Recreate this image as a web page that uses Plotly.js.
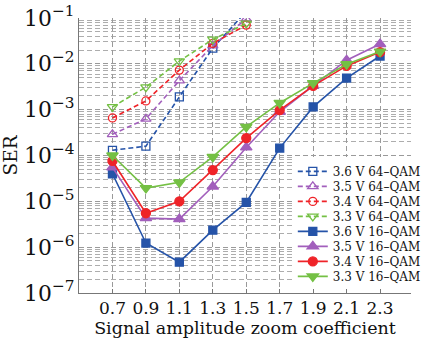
<!DOCTYPE html>
<html>
<head>
<meta charset="utf-8">
<script src="https://cdn.plot.ly/plotly-3.0.1.min.js"></script>
<style>html,body{margin:0;padding:0;background:#fff;overflow:hidden}#chart{width:427px;height:347px}</style>
</head>
<body>
<div id="chart"></div>
<script>
// Data
var x16 = [0.7, 0.9, 1.1, 1.3, 1.5, 1.7, 1.9, 2.1, 2.3];
var x64 = [0.7, 0.9, 1.1, 1.3, 1.5];
var xTickVals = [0.7, 0.9, 1.1, 1.3, 1.5, 1.7, 1.9, 2.1, 2.3];
var xTickText = ['0.7', '0.9', '1.1', '1.3', '1.5', '1.7', '1.9', '2.1', '2.3'];

var ser64_36 = [1.3e-4, 1.6e-4, 1.9e-3, 2.2e-2, 1.4e-1];
var ser64_35 = [2.9e-4, 6.3e-4, 4.3e-3, 2.5e-2, 9.5e-2];
var ser64_34 = [6.6e-4, 1.55e-3, 7.3e-3, 2.8e-2, 7.0e-2];
var ser64_33 = [1.15e-3, 3.1e-3, 1.15e-2, 3.4e-2, 7.6e-2];

var ser16_36 = [4.0e-5, 1.23e-6, 4.7e-7, 2.35e-6, 9.5e-6, 1.45e-4, 1.15e-3, 4.9e-3, 1.48e-2];
var ser16_35 = [5.5e-5, 4.3e-6, 4.1e-6, 2.1e-5, 1.5e-4, 9.0e-4, 3.3e-3, 1.2e-2, 2.7e-2];
var ser16_34 = [7.6e-5, 5.5e-6, 1.0e-5, 4.8e-5, 2.4e-4, 9.8e-4, 3.3e-3, 9.0e-3, 1.8e-2];
var ser16_33 = [1.0e-4, 1.95e-5, 2.6e-5, 9.3e-5, 4.2e-4, 1.4e-3, 3.8e-3, 9.8e-3, 1.85e-2];

var names = ['3.6 V 64–QAM', '3.5 V 64–QAM', '3.4 V 64–QAM', '3.3 V 64–QAM',
             '3.6 V 16–QAM', '3.5 V 16–QAM', '3.4 V 16–QAM', '3.3 V 16–QAM'];

var BLUE = '#2553a8', PURPLE = '#a25fbc', RED = '#ef2328', GREEN = '#74c044';

function tr(x, y, name, color, dash, symbol, size) {
  return {
    x: x, y: y, name: name, type: 'scatter', mode: 'lines+markers',
    line: {color: color, width: 1.6, dash: dash},
    marker: {color: color, symbol: symbol, size: size, line: {color: color, width: 1.3}}
  };
}

var DASH = '5px,3px';
var data = [
  tr(x64, ser64_36, names[0], BLUE, DASH, 'square-open', 8),
  tr(x64, ser64_35, names[1], PURPLE, DASH, 'triangle-up-open', 9),
  tr(x64, ser64_34, names[2], RED, DASH, 'circle-open', 8),
  tr(x64, ser64_33, names[3], GREEN, DASH, 'triangle-down-open', 9),
  tr(x16, ser16_36, names[4], BLUE, 'solid', 'square', 8),
  tr(x16, ser16_35, names[5], PURPLE, 'solid', 'triangle-up', 10),
  tr(x16, ser16_34, names[6], RED, 'solid', 'circle', 9),
  tr(x16, ser16_33, names[7], GREEN, 'solid', 'triangle-down', 10)
];

var FONT = 'DejaVu Serif, Liberation Serif, serif';
var GRID = '5px,3px';

var layout = {
  width: 427, height: 347,
  margin: {l: 79, r: 1, t: 18, b: 54},
  paper_bgcolor: '#fff', plot_bgcolor: '#fff',
  font: {family: FONT, color: '#111', size: 16},
  showlegend: true,
  legend: {
    x: 0.644, y: 0.495, xanchor: 'left', yanchor: 'top',
    bgcolor: '#fff', borderwidth: 0,
    font: {family: FONT, size: 12, color: '#111'},
    tracegroupgap: 0
  },
  xaxis: {
    range: [0.5, 2.485],
    tickvals: xTickVals, ticktext: xTickText,
    showgrid: true, gridcolor: '#9a9a9a', griddash: GRID, gridwidth: 1,
    showline: true, linecolor: '#777', linewidth: 1,
    ticks: 'inside', ticklen: 4, tickcolor: '#777',
    zeroline: false,
    tickfont: {family: FONT, size: 17, color: '#111'},
    title: {text: 'Signal amplitude zoom coefficient', font: {family: FONT, size: 17.5, color: '#111'}, standoff: 3}
  },
  yaxis: {
    type: 'log', range: [-7, -1], dtick: 1,
    exponentformat: 'power',
    showgrid: true, gridcolor: '#9a9a9a', griddash: GRID, gridwidth: 1,
    minor: {dtick: 'D1', showgrid: true, gridcolor: '#adadad', griddash: GRID, gridwidth: 1, ticks: ''},
    showline: true, linecolor: '#777', linewidth: 1,
    ticks: '', zeroline: false,
    tickfont: {family: FONT, size: 17.5, color: '#111'},
    title: {text: 'SER', font: {family: FONT, size: 18.5, color: '#111'}, standoff: 5}
  }
};

Plotly.newPlot('chart', data, layout, {displayModeBar: false, staticPlot: true}).then(function (gd) {
  // tighten legend row spacing to match the reference (15 px per entry)
  var items = gd.querySelectorAll('.legend .traces');
  var step = 15, y0 = null;
  items.forEach(function (g, i) {
    var t = g.getAttribute('transform') || '';
    var m = t.match(/translate\(\s*([-\d.]+)[ ,]+([-\d.]+)\s*\)/);
    if (!m) return;
    if (y0 === null) y0 = parseFloat(m[2]);
    g.setAttribute('transform', 'translate(' + m[1] + ',' + (y0 + i * step) + ')');
  });
  var bg = gd.querySelector('.legend .bg');
  if (bg && y0 !== null) {
    bg.setAttribute('height', y0 + items.length * step - step / 2 + 4);
  }
});
</script>
</body>
</html>
